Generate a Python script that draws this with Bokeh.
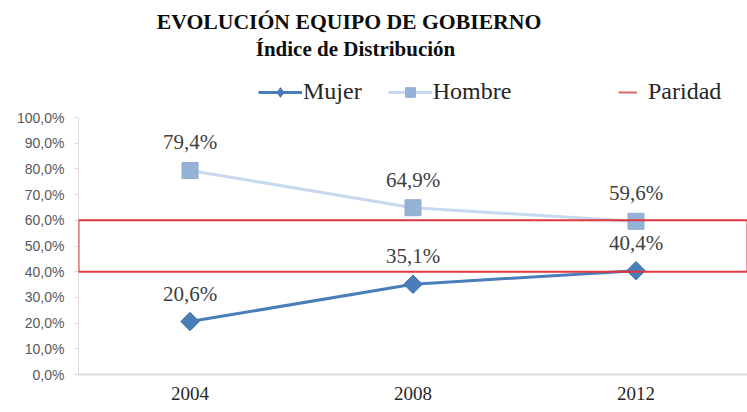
from bokeh.plotting import figure
from bokeh.models import (ColumnDataSource, FactorRange, Range1d, FixedTicker, CustomJSTickFormatter,
                          LabelSet, Label, Legend, LegendItem, BoxAnnotation)
from bokeh.embed import file_html
from bokeh.resources import INLINE

years = ["2004", "2008", "2012"]
mujer = [0.206, 0.351, 0.404]
hombre = [0.794, 0.649, 0.596]
paridad_low = 0.40
paridad_high = 0.60
y_ticks = [0.0, 0.1, 0.2, 0.3, 0.4, 0.5, 0.6, 0.7, 0.8, 0.9, 1.0]
title1 = "EVOLUCIÓN EQUIPO DE GOBIERNO"
title2 = "Índice de Distribución"

SERIF = "'Liberation Serif'"

def fmt(v):
    return f"{v*100:.1f}%".replace(".", ",")

src_m = ColumnDataSource(dict(x=years, y=mujer, t=[fmt(v) for v in mujer]))
src_h = ColumnDataSource(dict(x=years, y=hombre, t=[fmt(v) for v in hombre]))
src_nan = ColumnDataSource(dict(x=years, y=[float("nan")] * len(years)))

# frame covers title area; y axis drawn only over 0..1
p = figure(width=747, height=412, x_range=FactorRange(factors=years, range_padding=0),
           y_range=Range1d(0, 374 / 257), output_backend="svg", toolbar_location=None,
           min_border_left=78, min_border_right=0, min_border_top=0, min_border_bottom=38)
p.outline_line_color = None
p.grid.visible = False
p.background_fill_color = "white"
p.border_fill_color = "white"

# Paridad band
box = BoxAnnotation(bottom=paridad_low, top=paridad_high, fill_alpha=0,
                    line_color="#e0363c", line_alpha=1, line_width=2)
p.add_layout(box)
r_par = p.line("x", "y", source=src_nan, line_color="#e06666", line_width=2)

# Hombre
r_hl = p.line("x", "y", source=src_h, line_color="#c6d9f1", line_width=3)
r_hs = p.scatter("x", "y", source=src_h, marker="square", size=16,
                 fill_color="#95b3d7", line_color="#8eabd3")
# Mujer
r_ml = p.line("x", "y", source=src_m, line_color="#4a7ebb", line_width=3)
r_ms = p.scatter("x", "y", source=src_m, marker="square", size=13, angle=0.7854,
                 fill_color="#4a7ebb", line_color="#3f6fa8")
# legend-only diamond key (no data drawn)
r_mkey = p.scatter("x", "y", source=src_nan, marker="diamond", size=12,
                   fill_color="#4a7ebb", line_color="#3f6fa8")

for s in (src_h, src_m):
    p.add_layout(LabelSet(x="x", y="y", text="t", source=s, y_offset=28,
                          text_align="center", text_baseline="middle",
                          text_font=SERIF, text_font_size="21px",
                          text_color="#404040"))

# Axes
p.yaxis.ticker = FixedTicker(ticks=y_ticks)
p.yaxis.bounds = (0, 1)
p.yaxis.formatter = CustomJSTickFormatter(code="return (tick*100).toFixed(1).replace('.', ',') + '%';")
p.yaxis.axis_line_color = "#d9d9d9"
p.yaxis.major_tick_line_color = "#d9d9d9"
p.yaxis.major_tick_in = 0
p.yaxis.major_tick_out = 4
p.yaxis.minor_tick_line_color = None
p.yaxis.major_label_text_font = "Liberation Sans"
p.yaxis.major_label_text_font_size = "14px"
p.yaxis.major_label_text_color = "#595959"
p.yaxis.major_label_standoff = 10

p.xaxis.axis_line_color = "#d9d9d9"
p.xaxis.axis_line_width = 2
p.xaxis.major_tick_line_color = None
p.xaxis.minor_tick_line_color = None
p.xaxis.major_label_text_font = "Liberation Serif"
p.xaxis.major_label_text_font_size = "19px"
p.xaxis.major_label_text_color = "#262626"
p.xaxis.major_label_standoff = 6

# Titles
p.add_layout(Label(x=1.213, y=1.37, text=title1, text_align="center", text_baseline="middle",
                   text_font=SERIF, text_font_style="bold", text_font_size="21.7px",
                   text_color="#0d0d0d"))
p.add_layout(Label(x=1.242, y=1.265, text=title2, text_align="center", text_baseline="middle",
                   text_font=SERIF, text_font_style="bold", text_font_size="21px",
                   text_color="#0d0d0d"))

# Legends
leg1 = Legend(items=[LegendItem(label="Mujer", renderers=[r_ml, r_mkey]),
                     LegendItem(label="Hombre", renderers=[r_hl, r_hs])],
              orientation="horizontal", location=(180, 269), glyph_width=44, glyph_height=24,
              label_standoff=1, spacing=26, padding=0, margin=0, border_line_alpha=0,
              background_fill_alpha=0, label_text_font=SERIF, label_height=24,
              label_text_font_size="24px", label_text_color="#262626")
leg2 = Legend(items=[LegendItem(label="Paridad", renderers=[r_par])],
              orientation="horizontal", location=(540, 269), glyph_width=19, glyph_height=24,
              label_standoff=11, padding=0, margin=0, border_line_alpha=0,
              background_fill_alpha=0, label_text_font=SERIF, label_height=24,
              label_text_font_size="24px", label_text_color="#262626")
p.add_layout(leg1)
p.add_layout(leg2)

open("out.html", "w").write(file_html(p, INLINE))
